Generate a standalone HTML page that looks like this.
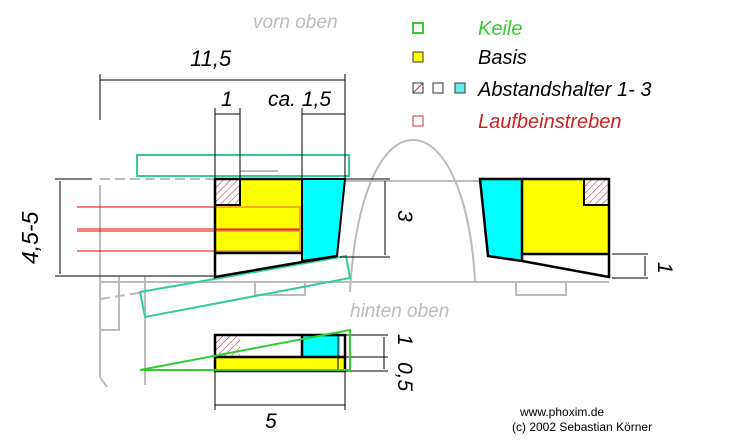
<!DOCTYPE html>
<html><head><style>body{margin:0;background:#fff}svg{display:block}text{font-family:"Liberation Sans",sans-serif;font-style:italic}</style></head><body>
<svg width="752" height="446" viewBox="0 0 752 446" xmlns="http://www.w3.org/2000/svg">
<defs><pattern id="h" width="5" height="5" patternUnits="userSpaceOnUse" patternTransform="rotate(45)"><rect width="5" height="5" fill="#fff"/><line x1="0" y1="0" x2="0" y2="5" stroke="#a03040" stroke-width="1"/></pattern></defs>
<g fill="none" stroke="#bbb" stroke-width="2">
<line x1="100" y1="185" x2="100" y2="377"/><polyline points="100,377 107,387"/>
<polyline points="119,277 119,330 100,330"/><line x1="145" y1="277" x2="145" y2="385"/>
<line x1="100" y1="282" x2="609" y2="282"/>
<line x1="100" y1="179" x2="215" y2="179" stroke-dasharray="10,5"/>
<line x1="100" y1="299" x2="145" y2="292" stroke-dasharray="10,5"/>
<line x1="345" y1="181" x2="480" y2="181"/>
<path d="M350,292 C355,200 380,140 413,140 C446,140 471,200 475,282"/>
<rect x="516" y="282" width="50" height="13"/>
<rect x="255" y="282" width="50" height="13"/>
<line x1="240" y1="171" x2="278" y2="171"/>
</g>
<text x="253" y="28" font-size="19" fill="#bbb">vorn oben</text>
<text x="350" y="317" font-size="19" fill="#bbb">hinten oben</text>
<rect x="137" y="155" width="212" height="21" fill="none" stroke="#3c9" stroke-width="2"/>
<polygon points="140,292 346,256 350,278 145,317" fill="none" stroke="#3c9" stroke-width="2"/>
<rect x="215" y="179" width="87" height="74" fill="#ff0"/>
<rect x="215" y="179" width="25" height="26" fill="url(#h)" stroke="#000" stroke-width="2"/>
<polygon points="302,179 345,179 337,256 302,261" fill="#0ff" stroke="#000" stroke-width="2"/>
<g stroke="#e00" stroke-width="1"><line x1="77" y1="207" x2="300" y2="207"/><line x1="77" y1="229" x2="300" y2="229"/><line x1="77" y1="231" x2="300" y2="231"/><line x1="77" y1="251" x2="300" y2="251"/></g>
<g stroke="#d64" fill="none" stroke-width="1"><rect x="215" y="207" width="85" height="23"/><rect x="215" y="231" width="85" height="20"/></g>
<g stroke="#000" stroke-width="2.5" fill="none"><polyline points="215,179 302,179"/><polyline points="215,179 215,277 337,256"/><line x1="215" y1="253" x2="302" y2="253"/></g>
<rect x="522" y="179" width="87" height="75" fill="#ff0"/>
<polygon points="480,179 522,179 522,261 488,256" fill="#0ff"/>
<rect x="584" y="179" width="25" height="26" fill="url(#h)" stroke="#000" stroke-width="2"/>
<g stroke="#000" stroke-width="2.5" fill="none"><polygon points="480,179 609,179 609,277 522,261 488,256"/><line x1="522" y1="179" x2="522" y2="261"/><line x1="522" y1="254" x2="609" y2="254"/></g>
<g stroke="#000" stroke-width="1" fill="none">
<line x1="100" y1="80" x2="345" y2="80"/><line x1="100" y1="74" x2="100" y2="120"/><line x1="345" y1="74" x2="345" y2="179"/>
<line x1="215" y1="108" x2="215" y2="179"/><line x1="240" y1="108" x2="240" y2="179"/><line x1="215" y1="114" x2="240" y2="114"/>
<line x1="302" y1="108" x2="302" y2="179"/><line x1="302" y1="114" x2="345" y2="114"/>
<line x1="55" y1="179" x2="92" y2="179"/><line x1="55" y1="276" x2="215" y2="276"/><line x1="60" y1="181" x2="60" y2="274"/>
<line x1="345" y1="179" x2="390" y2="179"/><line x1="340" y1="257" x2="390" y2="257"/><line x1="385" y1="181" x2="385" y2="255"/>
<line x1="612" y1="254" x2="648" y2="254"/><line x1="612" y1="278" x2="648" y2="278"/><line x1="645" y1="256" x2="645" y2="276"/>
<line x1="345" y1="335" x2="388" y2="335"/><line x1="345" y1="357" x2="388" y2="357"/><line x1="345" y1="371" x2="388" y2="371"/><line x1="384" y1="337" x2="384" y2="369"/>
<line x1="215" y1="372" x2="215" y2="410"/><line x1="345" y1="372" x2="345" y2="410"/><line x1="215" y1="405" x2="345" y2="405"/>
</g>
<text x="190" y="66" font-size="22">11,5</text>
<text x="221" y="106" font-size="21">1</text>
<text x="268" y="106" font-size="21">ca. 1,5</text>
<text x="0" y="0" font-size="23" transform="translate(38,264) rotate(-90)">4,5-5</text>
<text x="0" y="0" font-size="21" transform="translate(398,210) rotate(90)">3</text>
<text x="0" y="0" font-size="21" transform="translate(658,262) rotate(90)">1</text>
<text x="0" y="0" font-size="21" transform="translate(398,334) rotate(90)">1</text>
<text x="0" y="0" font-size="21" transform="translate(398,362) rotate(90)">0,5</text>
<text x="265" y="428" font-size="21">5</text>
<rect x="215" y="357" width="130" height="14" fill="#ff0"/>
<rect x="302" y="335" width="38" height="22" fill="#0ff"/>
<rect x="215" y="335" width="25" height="22" fill="url(#h)"/>
<g stroke="#000" stroke-width="2.5" fill="none"><rect x="215" y="335" width="130" height="36"/><line x1="215" y1="357" x2="345" y2="357"/><line x1="302" y1="335" x2="302" y2="357"/></g>
<line x1="338" y1="335" x2="338" y2="371" stroke="#000" stroke-width="1"/>
<polygon points="140,370 350,330 350,370" fill="none" stroke="#3c3" stroke-width="2"/>
<rect x="413" y="23" width="10" height="10" fill="none" stroke="#3c3" stroke-width="2"/>
<rect x="413" y="52" width="10" height="10" fill="#ff0" stroke="#333"/>
<rect x="413" y="83" width="10" height="10" fill="#fff" stroke="#333"/><line x1="413" y1="93" x2="423" y2="83" stroke="#a03040"/>
<rect x="433" y="83" width="10" height="10" fill="#fff" stroke="#333"/>
<rect x="455" y="83" width="10" height="10" fill="#6ee" stroke="#333"/>
<rect x="413" y="116" width="10" height="10" fill="#fff" stroke="#c33"/>
<text x="478" y="35" font-size="20" fill="#3c3">Keile</text>
<text x="478" y="64" font-size="20">Basis</text>
<text x="478" y="96" font-size="20">Abstandshalter 1- 3</text>
<text x="478" y="128" font-size="20" fill="#c22">Laufbeinstreben</text>
<text x="520" y="416" font-size="12" style="font-style:normal">www.phoxim.de</text>
<text x="512" y="431" font-size="12" style="font-style:normal">(c) 2002 Sebastian Körner</text>
</svg>
</body></html>
